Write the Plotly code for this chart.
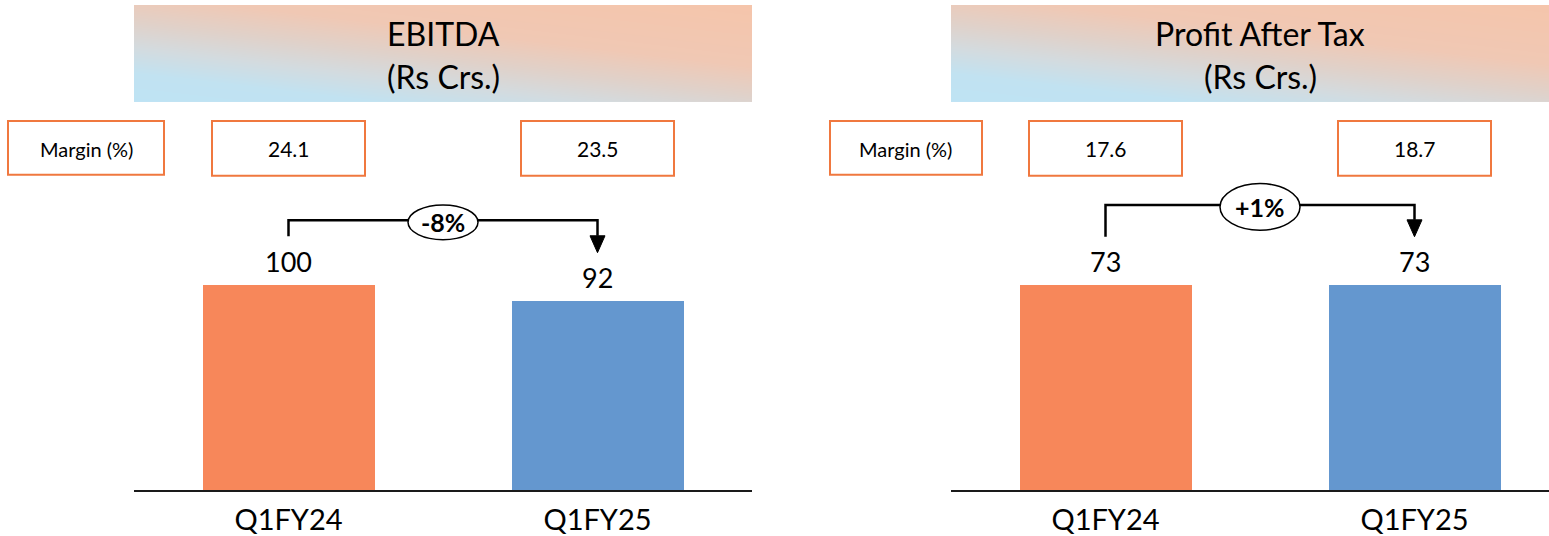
import plotly.graph_objects as go

# ---- data -------------------------------------------------------------
categories = ["Q1FY24", "Q1FY25"]

ebitda_values = [100, 92]
ebitda_margin = [24.1, 23.5]
ebitda_change = "-8%"

pat_values = [73, 73]
pat_margin = [17.6, 18.7]
pat_change = "+1%"

panel_titles = ["EBITDA", "Profit After Tax"]
panel_units = "(Rs Crs.)"
margin_label = "Margin (%)"

# ---- styling ----------------------------------------------------------
W, H = 1549, 536
FONT = "Lato"
BAR_COLORS = ["#F7875A", "#6497CF"]
BOX_LINE = "#F0783F"
INK = "#000000"


def fx(p):
    """horizontal pixel -> paper fraction"""
    return p / W


def fy(p):
    """vertical pixel (from top) -> paper fraction"""
    return 1 - p / H


PLOT_TOP, PLOT_BOTTOM = 112, 494
PLOT_H = PLOT_BOTTOM - PLOT_TOP
UNIT_PX = 309  # pixels between the two category slots

panels = [
    dict(values=ebitda_values, margin=ebitda_margin, change=ebitda_change,
         title=panel_titles[0], left=134, right=752, px_per_unit=2.07,
         bracket_h=65, ell_w=70, ell_h=35, ell_dy=-2, label_box=(8, 164)),
    dict(values=pat_values, margin=pat_margin, change=pat_change,
         title=panel_titles[1], left=951, right=1549, px_per_unit=2.8288,
         bracket_h=81, ell_w=80, ell_h=47, ell_dy=-2, label_box=(830, 982)),
]

fig = go.Figure()
shapes, annotations = [], []
layout_axes = {}


def label(**kw):
    kw.setdefault("showarrow", False)
    kw.setdefault("xanchor", "center")
    kw.setdefault("yanchor", "middle")
    annotations.append(kw)


# diagonal blend for the title banners (bottom-left blue -> top-right peach)
banner_scale = [
    [0.00, "#BEE3F4"], [0.17, "#C1E2F1"], [0.32, "#D3DBDF"],
    [0.47, "#E0D1C9"], [0.64, "#F0C8B4"], [1.00, "#F5C5AB"],
]

for i, p in enumerate(panels):
    n = i + 1
    xa = "x" if n == 1 else f"x{n}"
    ya = "y" if n == 1 else f"y{n}"
    ppu = p["px_per_unit"]
    ymax = PLOT_H / ppu
    xr0 = -0.5
    xr1 = xr0 + (p["right"] - p["left"]) / UNIT_PX
    vals = p["values"]

    # bars
    fig.add_trace(go.Bar(
        x=list(range(len(categories))), y=vals,
        marker=dict(color=BAR_COLORS, line=dict(width=0)),
        width=172 / UNIT_PX, xaxis=xa, yaxis=ya,
        hoverinfo="skip", showlegend=False,
    ))

    layout_axes[f"xaxis{'' if n == 1 else n}"] = dict(
        domain=[fx(p["left"]), fx(p["right"])], range=[xr0, xr1],
        anchor=ya, showgrid=False, zeroline=False,
        showline=True, linecolor="#1a1a1a", linewidth=2,
        tickmode="array", tickvals=list(range(len(categories))),
        ticktext=categories, ticks="outside", ticklen=3,
        tickcolor="rgba(0,0,0,0)",
        tickfont=dict(family=FONT, size=29, color=INK),
        fixedrange=True,
    )
    layout_axes[f"yaxis{'' if n == 1 else n}"] = dict(
        domain=[fy(PLOT_BOTTOM), fy(PLOT_TOP)], range=[0, ymax],
        anchor=xa, visible=False, fixedrange=True,
    )

    # value labels above bars
    for k, v in enumerate(vals):
        label(x=k, y=v, xref=xa, yref=ya, text=f"{v:g}",
              yanchor="bottom", yshift=5,
              font=dict(family=FONT, size=27, color=INK))

    # change bracket with arrow
    gap = 49
    head_len, head_half = 17, 7.5
    y_left = vals[0] + gap / ppu
    y_tip = vals[1] + gap / ppu
    y_head = vals[1] + (gap + head_len) / ppu
    y_line = max(vals) + p["bracket_h"] / ppu
    hx = head_half / UNIT_PX
    shapes.append(dict(
        type="path", xref=xa, yref=ya,
        path=f"M 0,{y_left} V {y_line} H 1 V {y_head}",
        line=dict(color=INK, width=2.5),
    ))
    shapes.append(dict(
        type="path", xref=xa, yref=ya,
        path=f"M {1 - hx},{y_head} L {1 + hx},{y_head} L 1,{y_tip} Z",
        fillcolor=INK, line=dict(color=INK, width=1),
    ))
    ex = p["ell_w"] / 2 / UNIT_PX
    ey = p["ell_h"] / 2 / ppu
    ec = y_line + p["ell_dy"] / ppu
    shapes.append(dict(
        type="circle", xref=xa, yref=ya,
        x0=0.5 - ex, x1=0.5 + ex, y0=ec - ey, y1=ec + ey,
        fillcolor="white", line=dict(color=INK, width=1.5),
    ))
    label(x=0.5, y=ec, xref=xa, yref=ya, text=f"<b>{p['change']}</b>",
          font=dict(family=FONT, size=25, color=INK))

    # margin boxes
    lb0, lb1 = p["label_box"]
    shapes.append(dict(
        type="rect", xref="paper", yref="paper",
        x0=fx(lb0), x1=fx(lb1), y0=fy(176), y1=fy(122),
        line=dict(color=BOX_LINE, width=2), fillcolor="white",
    ))
    label(x=fx((lb0 + lb1) / 2), y=fy(150), xref="paper", yref="paper",
          text=margin_label, font=dict(family=FONT, size=20, color=INK))
    bw = 153 / 2 / UNIT_PX
    for k, m in enumerate(p["margin"]):
        shapes.append(dict(
            type="rect", xref=xa, yref="paper",
            x0=k - bw, x1=k + bw, y0=fy(177), y1=fy(122),
            line=dict(color=BOX_LINE, width=2), fillcolor="white",
        ))
        label(x=k, y=fy(150), xref=xa, yref="paper", text=f"{m:.1f}",
              font=dict(family=FONT, size=21, color=INK))

    # title banner
    bx = f"x{n + 2}"
    by = f"y{n + 2}"
    banner_w = 618
    fig.add_trace(go.Heatmap(
        x=[0, 1], y=[0, 1], z=[[0, 0.75], [1, 1.75]],
        zmin=0, zmax=1.75, colorscale=banner_scale, zsmooth="best",
        showscale=False, hoverinfo="skip", xaxis=bx, yaxis=by,
    ))
    layout_axes[f"xaxis{n + 2}"] = dict(
        domain=[fx(p["left"]), fx(p["right"])],
        range=[0, (p["right"] - p["left"]) / banner_w],
        anchor=by, visible=False, fixedrange=True,
    )
    layout_axes[f"yaxis{n + 2}"] = dict(
        domain=[fy(103), fy(5)], range=[0, 1],
        anchor=bx, visible=False, fixedrange=True,
    )
    cx = fx(p["left"] + banner_w / 2)
    label(x=cx, y=fy(34), xref="paper", yref="paper", text=p["title"],
          font=dict(family=FONT, size=32, color=INK))
    label(x=cx, y=fy(77), xref="paper", yref="paper", text=panel_units,
          font=dict(family=FONT, size=32, color=INK))

fig.update_layout(
    width=W, height=H,
    margin=dict(l=0, r=0, t=0, b=0),
    paper_bgcolor="white", plot_bgcolor="rgba(0,0,0,0)",
    showlegend=False, bargap=0,
    shapes=shapes, annotations=annotations,
    **layout_axes,
)

fig.write_html("out.html", config={"displayModeBar": False})
